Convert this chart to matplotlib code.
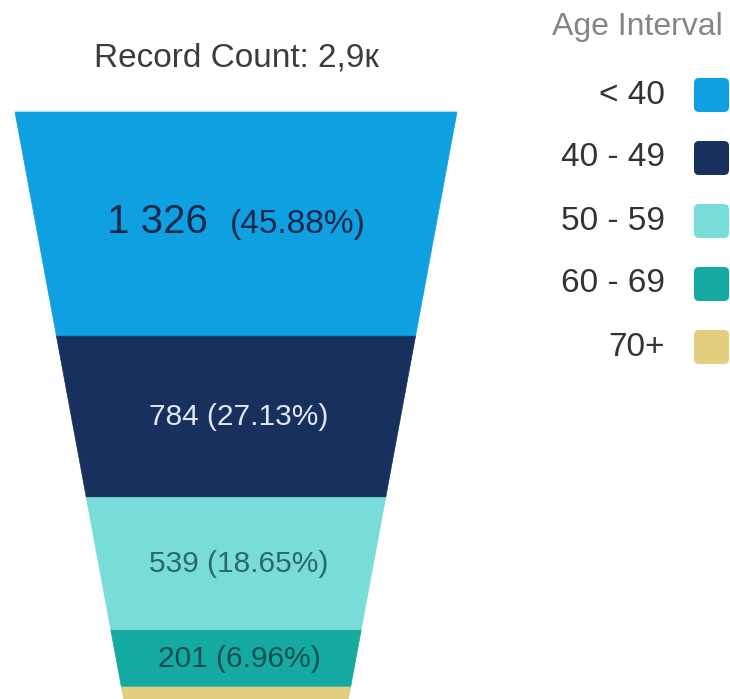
import numpy as np
import matplotlib
matplotlib.use("Agg")
import matplotlib.pyplot as plt
from matplotlib.patches import Polygon, FancyBboxPatch

plt.rcParams['font.family'] = ['Liberation Sans', 'DejaVu Sans']

# data
categories = ["< 40", "40 - 49", "50 - 59", "60 - 69", "70+"]
counts = [1326, 784, 539, 201, 40]
shares = [45.88, 27.13, 18.65, 6.96, 1.38]
colors = ["#0ea0e0", "#18305e", "#78ddd8", "#14a9a1", "#e3ce7f"]
text_colors = ["#16294a", "#e2e6ee", "#2a6a66", "#0e5050", "#333333"]
title = "Record Count: 2,9\u043a"
legend_title = "Age Interval"

# funnel geometry (pixel units of the figure)
W, H = 730, 699
cx = 236          # funnel centre
top_y = 112       # top edge of funnel
top_w = 442       # width at top
slope = 0.37      # width lost per px of height
full_h = 587      # funnel height

fig = plt.figure(figsize=(W / 100, H / 100), dpi=100)
ax = fig.add_axes([0, 0, 1, 1])
ax.set_xlim(0, W)
ax.set_ylim(H, 0)
ax.axis("off")

# segments have area proportional to count
total_area = top_w * full_h - slope * full_h ** 2 / 2
cum = np.concatenate([[0], np.cumsum(counts)]) / sum(counts)


def depth(frac):
    a = frac * total_area
    return (top_w - np.sqrt(max(top_w ** 2 - 2 * slope * a, 0))) / slope


bounds = [depth(f) for f in cum]
for i, (c, col) in enumerate(zip(counts, colors)):
    h0, h1 = bounds[i], bounds[i + 1]
    w0 = top_w - slope * h0
    w1 = top_w - slope * h1
    y0, y1 = top_y + h0, top_y + h1
    poly = Polygon([(cx - w0 / 2, y0), (cx + w0 / 2, y0),
                    (cx + w1 / 2, y1), (cx - w1 / 2, y1)],
                   closed=True, facecolor=col, edgecolor=col, lw=0.5)
    ax.add_patch(poly)
    ym = (y0 + y1) / 2
    num = f"{c:,}".replace(",", " ")
    if i == 0:
        ax.text(cx - 28, ym - 2, num, fontsize=29, color=text_colors[i],
                ha="right", va="center")
        ax.text(cx - 6, ym, f"({shares[i]:.2f}%)", fontsize=24,
                color=text_colors[i], ha="left", va="center")
    elif y1 - y0 > 30:
        ax.text(cx + 3, ym, f"{num} ({shares[i]:.2f}%)", fontsize=21.5,
                color=text_colors[i], ha="center", va="center")

ax.text(cx, 58, title, fontsize=24, color="#3c3c3c", ha="center", va="center")

# legend
ax.text(723, 27, legend_title, fontsize=23, color="#858585",
        ha="right", va="center")
for i, (lab, col) in enumerate(zip(categories, colors)):
    y = 95 + i * 63
    ax.text(665, y, lab, fontsize=24, color="#333333", ha="right", va="center")
    box = FancyBboxPatch((696, y - 15), 31, 30,
                         boxstyle="round,pad=2,rounding_size=5",
                         facecolor=col, edgecolor=col, lw=0)
    ax.add_patch(box)

fig.savefig("out.png", dpi=100)
